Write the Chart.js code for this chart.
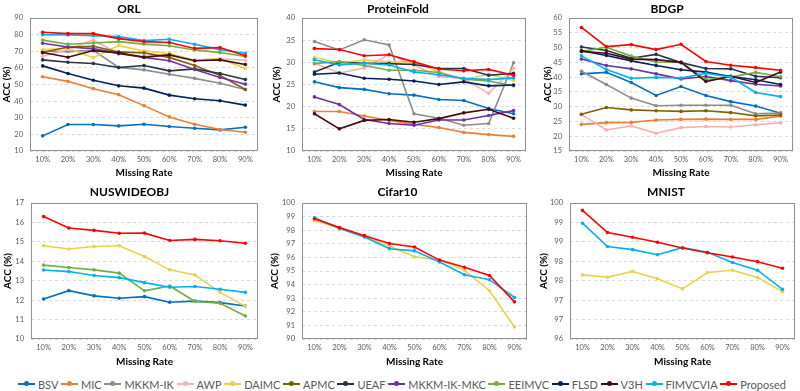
<!DOCTYPE html>
<html>
<head>
<meta charset="utf-8">
<script src="https://cdn.jsdelivr.net/npm/chart.js@4.4.1/dist/chart.umd.min.js"></script>
<style>
  body { margin: 0; background: #fff; }
  #page { position: relative; width: 800px; height: 391px; overflow: hidden; font-family: Lato, sans-serif; }
  #page canvas { position: absolute; }
  #legend {
    position: absolute; left: 18px; width: 768px; top: 376px; height: 16px;
    display: flex; justify-content: space-between; align-items: center;
    font-size: 11px; color: #595959;
  }
  .item { display: flex; align-items: center; white-space: nowrap; }
  .swatch { position: relative; width: 17px; height: 2px; margin-right: 3px; }
  .swatch i { position: absolute; left: 6px; top: -2px; width: 5px; height: 5px; border-radius: 50%; }
</style>
</head>
<body>
<div id="page"><div id="legend"></div></div>
<script>
// ── Data ──────────────────────────────────────────────────────────────────────
const missingRates = ['10%', '20%', '30%', '40%', '50%', '60%', '70%', '80%', '90%'];

const methods = ['BSV', 'MIC', 'MKKM-IK', 'AWP', 'DAIMC', 'APMC', 'UEAF',
                 'MKKM-IK-MKC', 'EEIMVC', 'FLSD', 'V3H', 'FIMVCVIA', 'Proposed'];

// one row per method (same order as methods), null = not reported
const orlAcc = [
  [19.1, 25.9, 25.9, 25.1, 26.1, 24.7, 23.7, 22.7, 24.3],
  [54.7, 51.9, 47.5, 43.9, 37.3, 30.5, 26.1, 22.9, 21.3],
  [70.0, 69.8, 70.6, 60.3, 58.8, 56.2, 53.7, 50.8, 47.0],
  [67.0, 71.0, 76.8, 68.4, 67.0, 68.2, 64.6, 65.5, 64.6],
  [71.0, 71.8, 66.1, 73.4, 70.2, 68.6, 64.5, 65.6, 59.6],
  [69.2, 72.6, 73.0, 69.6, 69.0, 66.3, 61.4, 55.5, 47.0],
  [64.8, 63.4, 62.6, 60.2, 61.4, 58.2, 59.4, 56.6, 53.0],
  [74.8, 72.6, 71.6, 68.6, 66.3, 64.3, 59.0, 54.2, 50.2],
  [76.7, 74.2, 75.0, 75.8, 74.3, 73.3, 70.8, 69.2, 66.8],
  [61.2, 56.6, 52.6, 49.2, 47.8, 43.6, 41.4, 40.2, 37.6],
  [69.2, 66.4, 70.4, 69.0, 66.4, 67.8, 64.3, 64.8, 62.0],
  [80.0, 79.8, 79.4, 78.8, 76.4, 77.2, 74.2, 71.0, 68.8],
  [81.4, 80.6, 80.6, 77.6, 75.8, 75.3, 71.7, 72.2, 67.3]
];

const proteinFoldAcc = [
  [25.6, 24.3, 23.9, 22.9, 22.6, 21.6, 21.4, 19.6, 18.4],
  [18.9, 18.9, 17.9, 16.9, 16.0, 15.3, 14.2, 13.7, 13.3],
  [34.7, 32.8, 35.1, 33.9, 18.4, 17.4, 15.8, 16.2, 29.9],
  [29.8, 27.6, 28.7, 31.8, 29.4, 26.8, 26.3, 23.0, 28.6],
  [31.1, 29.9, 30.5, 30.1, 30.1, 27.8, 26.1, 27.3, 25.9],
  null,
  [27.8, 30.0, 29.8, 29.7, 29.5, 28.6, 28.6, 27.1, 27.5],
  [22.2, 20.5, 17.1, 16.2, 15.8, 17.0, 17.0, 18.0, 19.1],
  [29.7, 30.2, 29.3, 28.2, 28.2, 27.7, 26.2, 25.8, 24.7],
  [27.3, 27.6, 26.4, 26.2, 25.8, 25.0, 25.6, 24.7, 24.9],
  [18.4, 15.0, 16.9, 17.1, 16.5, 17.3, 18.6, 19.4, 17.4],
  [30.6, 29.4, 29.8, 29.4, 27.8, 27.2, 26.4, 26.1, 26.5],
  [33.1, 32.9, 31.5, 31.7, 30.1, 28.5, 28.1, 28.4, 27.1]
];

const bdgpAcc = [
  [41.1, 41.6, 38.2, 33.8, 36.8, 33.8, 31.7, 30.2, 27.8],
  [24.0, 24.6, 24.7, 25.5, 25.7, 25.8, 25.7, 25.7, 26.8],
  [42.0, 37.5, 32.9, 30.3, 30.5, 30.5, 30.5, 27.6, 27.8],
  [27.4, 22.1, 23.5, 21.0, 22.9, 23.3, 23.1, 23.9, 24.5],
  null,
  [27.4, 29.7, 28.9, 28.6, 28.4, 28.6, 28.0, 26.9, 27.2],
  [50.2, 49.0, 46.4, 47.7, 44.9, 42.9, 42.8, 40.3, 39.8],
  [46.1, 43.9, 42.8, 41.1, 39.4, 40.2, 38.8, 37.6, 37.0],
  [48.7, 50.1, 47.1, 45.1, 45.0, 39.2, 40.0, 41.6, 40.1],
  [48.9, 47.3, 45.5, 43.9, 42.5, 41.7, 40.2, 39.1, 37.5],
  [48.7, 48.1, 46.1, 45.9, 45.0, 38.5, 40.3, 38.2, 41.7],
  [47.2, 42.6, 39.6, 39.9, 39.7, 41.3, 40.0, 34.8, 33.4],
  [56.8, 50.3, 51.0, 49.3, 51.1, 45.3, 44.0, 43.2, 42.3]
];

const nuswideAcc = [
  [12.06, 12.49, 12.22, 12.10, 12.18, 11.89, 11.95, 11.87, 11.70],
  null, null, null,
  [14.80, 14.63, 14.76, 14.80, 14.25, 13.56, 13.30, 12.40, 11.68],
  null, null, null,
  [13.80, 13.68, 13.56, 13.39, 12.48, 12.73, 11.93, 11.84, 11.18],
  null, null,
  [13.55, 13.47, 13.27, 13.16, 12.90, 12.66, 12.70, 12.56, 12.40],
  [16.30, 15.71, 15.59, 15.44, 15.45, 15.07, 15.13, 15.06, 14.93]
];

const cifar10Acc = [
  null, null, null, null,
  [98.72, 98.17, 97.56, 96.82, 96.05, 95.80, 95.05, 93.55, 90.88],
  null, null, null, null, null, null,
  [98.92, 98.12, 97.50, 96.64, 96.48, 95.66, 94.72, 94.36, 93.05],
  [98.84, 98.19, 97.60, 97.02, 96.77, 95.80, 95.27, 94.67, 92.73]
];

const mnistAcc = [
  null, null, null, null,
  [97.65, 97.59, 97.74, 97.55, 97.29, 97.71, 97.77, 97.58, 97.22],
  null, null, null, null, null, null,
  [98.98, 98.38, 98.30, 98.17, 98.35, 98.23, 97.97, 97.77, 97.28],
  [99.31, 98.74, 98.62, 98.49, 98.34, 98.22, 98.11, 97.99, 97.82]
];

// ── Style ─────────────────────────────────────────────────────────────────────
const COLORS = ['#0070C0', '#ED7D31', '#8C8C8C', '#F7AFB0', '#EBD04B', '#7F6000', '#243447',
                '#7030A0', '#70AD47', '#002060', '#450B14', '#00B0F0', '#FF0000'];
const FONT = 'Lato, sans-serif';

const page = document.getElementById('page');

// grey box round the plot area
const plotFrame = {
  id: 'plotFrame',
  beforeDatasetsDraw(chart) {
    const { ctx, chartArea: a } = chart;
    ctx.save();
    ctx.strokeStyle = '#8f8f8f';
    ctx.lineWidth = 1;
    ctx.strokeRect(Math.round(a.left) + 0.5, Math.round(a.top) + 0.5,
                   Math.round(a.width) - 1, Math.round(a.height) - 1);
    ctx.restore();
  }
};

function drawPanel(title, rows, yMin, yMax, yStep, g) {
  const canvas = document.createElement('canvas');
  canvas.width = g.w;
  canvas.height = g.h;
  canvas.style.left = g.x + 'px';
  canvas.style.top = g.y + 'px';
  page.appendChild(canvas);

  const datasets = [];
  rows.forEach((vals, i) => {
    if (!vals) return;
    datasets.push({
      label: methods[i],
      data: vals,
      borderColor: COLORS[i],
      backgroundColor: COLORS[i],
      pointBackgroundColor: COLORS[i],
      pointBorderColor: COLORS[i],
      borderWidth: 1.6,
      pointRadius: 1.8,
      pointBorderWidth: 0,
      tension: 0,
      order: methods.length - i   // Proposed drawn last, on top
    });
  });

  const yTicks = { stepSize: yStep, color: '#595959', font: { family: FONT, size: 7.5 }, padding: 7 };
  if (g.round) yTicks.callback = v => Math.round(v);

  new Chart(canvas, {
    type: 'line',
    data: { labels: missingRates, datasets },
    options: {
      responsive: false,
      animation: false,
      devicePixelRatio: 1,
      layout: { padding: { left: 0, right: g.pr, top: 0, bottom: 0 } },
      plugins: {
        legend: { display: false },
        tooltip: { enabled: false },
        title: {
          display: true, text: title, color: '#000',
          font: { family: FONT, size: 12, weight: 'bold' },
          padding: g.tp
        }
      },
      scales: {
        x: {
          offset: true,
          grid: { display: false, drawTicks: false },
          border: { display: false },
          ticks: { color: '#595959', font: { family: FONT, size: 7.5 }, padding: 4, maxRotation: 0, autoSkip: false },
          title: {
            display: true, text: 'Missing Rate', color: '#000',
            font: { family: FONT, size: 10, weight: 'bold' },
            padding: { top: 0, bottom: g.xb }
          },
          afterFit: s => { s.height = g.xh; }
        },
        y: {
          min: yMin, max: yMax,
          grid: { color: '#d9d9d9', lineWidth: 1, drawTicks: false },
          border: { display: false, dash: [3, 3] },
          ticks: yTicks,
          title: {
            display: true, text: 'ACC (%)', color: '#000',
            font: { family: FONT, size: 10, weight: 'bold' },
            padding: { top: 1, bottom: 0 }
          },
          afterFit: s => { s.width = g.yw; }
        }
      }
    },
    plugins: [plotFrame]
  });
}

const topTitlePad = { top: 1.5, bottom: 2.1 };
const botTitlePad = { top: 0.8, bottom: 3.8 };

drawPanel('ORL', orlAcc, 10, 90, 10,
  { x: 0, y: 0, w: 262, h: 182, yw: 30, pr: 4, xh: 31, xb: 3, tp: topTitlePad });
drawPanel('ProteinFold', proteinFoldAcc, 10, 40, 5,
  { x: 270, y: 0, w: 260, h: 182, yw: 32, pr: 4, xh: 31, xb: 3, tp: topTitlePad });
drawPanel('BDGP', bdgpAcc, 15, 60, 5,
  { x: 541, y: 0, w: 259, h: 182, yw: 28, pr: 7, xh: 31, xb: 3, tp: topTitlePad });
drawPanel('NUSWIDEOBJ', nuswideAcc, 10, 17, 1,
  { x: 1, y: 184, w: 261, h: 186, yw: 30, pr: 4, xh: 31, xb: 2, tp: botTitlePad });
drawPanel('Cifar10', cifar10Acc, 90, 100, 1,
  { x: 268, y: 184, w: 263, h: 186, yw: 34, pr: 4, xh: 31, xb: 2, tp: botTitlePad });
drawPanel('MNIST', mnistAcc, 96, 99.5, 0.5,
  { x: 537, y: 184, w: 263, h: 186, yw: 33, pr: 5, xh: 31, xb: 2, tp: botTitlePad, round: true });

// ── Shared legend ─────────────────────────────────────────────────────────────
const legendEl = document.getElementById('legend');
methods.forEach((name, i) => {
  const item = document.createElement('div');
  item.className = 'item';
  item.innerHTML = `<span class="swatch" style="background:${COLORS[i]}"><i style="background:${COLORS[i]}"></i></span><span>${name}</span>`;
  legendEl.appendChild(item);
});
</script>
</body>
</html>
